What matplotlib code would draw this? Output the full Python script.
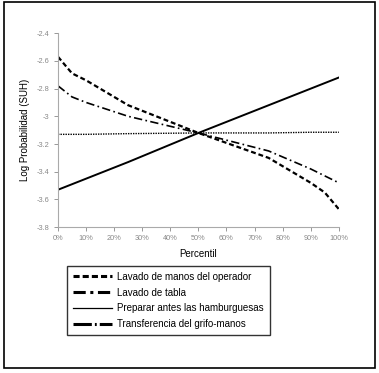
import matplotlib
matplotlib.use("Agg")
import matplotlib.pyplot as plt
from matplotlib.lines import Line2D
from matplotlib.patches import Rectangle

pct = [0, 5, 10, 25, 50, 75, 90, 95, 100]
lavado_manos = [-2.57, -2.69, -2.74, -2.92, -3.12, -3.30, -3.48, -3.55, -3.67]
lavado_tabla = [-2.78, -2.86, -2.90, -3.00, -3.12, -3.25, -3.38, -3.43, -3.48]
preparar = [-3.13, -3.13, -3.13, -3.125, -3.12, -3.12, -3.115, -3.115, -3.115]
transferencia = [-3.53, -3.49, -3.45, -3.33, -3.12, -2.92, -2.80, -2.76, -2.72]

yticks = [-2.4, -2.6, -2.8, -3.0, -3.2, -3.4, -3.6, -3.8]
ytick_labels = ["-2.4", "-2.6", "-2.8", "-3", "-3.2", "-3.4", "-3.6", "-3.8"]
xticks = list(range(0, 101, 10))
xtick_labels = [f"{t}%" for t in xticks]

plt.rcParams['font.family'] = ['Liberation Sans', 'DejaVu Sans']

fig = plt.figure(figsize=(3.79, 3.73), dpi=100)
ax = fig.add_axes([0.153, 0.391, 0.741, 0.520])

ax.plot(pct, lavado_manos, color='black', lw=1.6, ls=(0, (2.2, 1.3)))
ax.plot(pct, lavado_tabla, color='black', lw=1.2, ls=(0, (5, 2, 1, 2)))
ax.plot(pct, preparar, color='black', lw=1.0, ls=(0, (1, 0.8)))
ax.plot(pct, transferencia, color='black', lw=1.4, ls='-')

ax.set_xlim(0, 100)
ax.set_ylim(-3.8, -2.4)
ax.set_yticks(yticks)
ax.set_yticklabels(ytick_labels)
ax.set_xticks(xticks)
ax.set_xticklabels(xtick_labels)
ax.tick_params(labelsize=5.3, colors='#888888', length=3, width=0.6, pad=3)
for s in ['top', 'right']:
    ax.spines[s].set_visible(False)
for s in ['left', 'bottom']:
    ax.spines[s].set_color('#aaaaaa')
    ax.spines[s].set_linewidth(0.8)

ax.set_ylabel("Log Probabilidad (SUH)", fontsize=7, labelpad=5)
ax.set_xlabel("Percentil", fontsize=7, labelpad=5)

handles = [
    Line2D([], [], color='black', lw=2.2, ls=(0, (2.0, 1.0))),
    Line2D([], [], color='black', lw=2.2, ls=(0, (4, 1.5, 1, 1.5))),
    Line2D([], [], color='black', lw=0.9, ls='-'),
    Line2D([], [], color='black', lw=2.2, ls=(0, (6, 1, 0.6, 1))),
]
labels = ["Lavado de manos del operador", "Lavado de tabla",
          "Preparar antes las hamburguesas", "Transferencia del grifo-manos"]
leg = fig.legend(handles, labels, loc='upper left',
                 bbox_to_anchor=(0.177, 0.287, 0.536, 0.0), mode='expand',
                 fontsize=7, frameon=True, fancybox=False, handlelength=4.0,
                 handletextpad=0.5, labelspacing=0.6, borderpad=0.6,
                 borderaxespad=0)
leg.get_frame().set_edgecolor('black')
leg.get_frame().set_linewidth(1.0)

fig.patches.append(Rectangle((4 / 379, 1 - 368 / 373), 371 / 379, 366 / 373,
                             transform=fig.transFigure, fill=False,
                             edgecolor='black', lw=1.2))

fig.savefig("out.png", dpi=100)
